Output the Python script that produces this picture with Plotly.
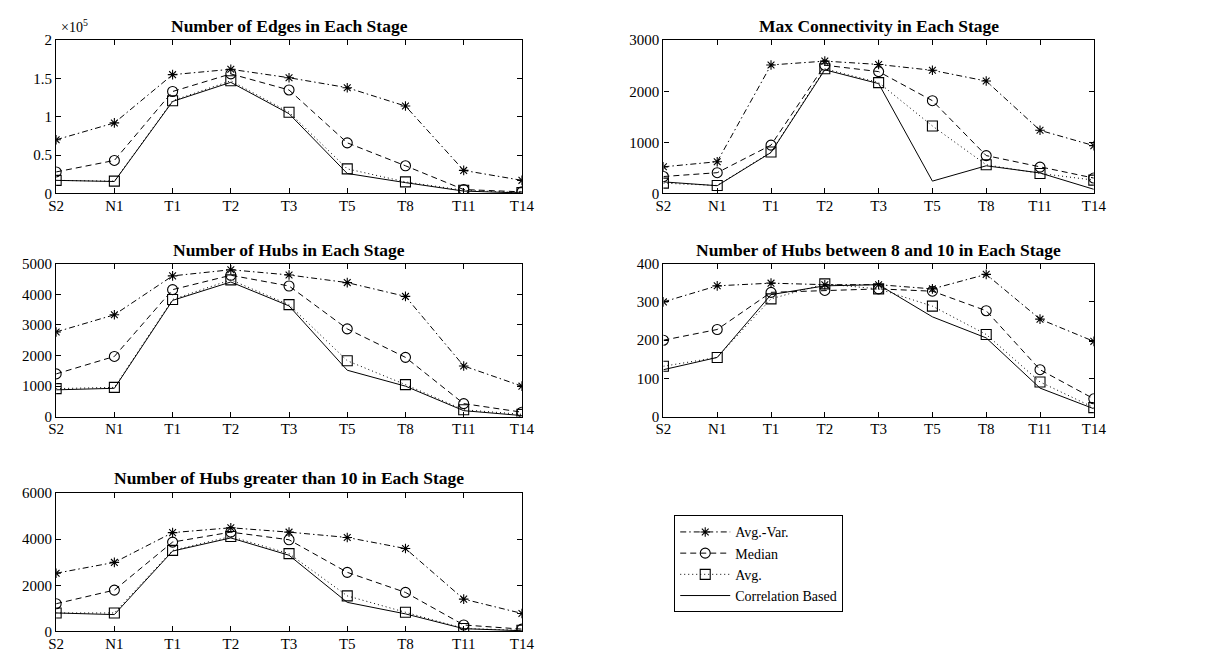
import plotly.graph_objects as go

stages = ["S2", "N1", "T1", "T2", "T3", "T5", "T8", "T11", "T14"]
series_names = ["Avg.-Var.", "Median", "Avg.", "Correlation Based"]

edges_avgvar = [70000, 92000, 155000, 162000, 151000, 138000, 114000, 30000, 17000]
edges_median = [28000, 43000, 133000, 156000, 135000, 66000, 36000, 5000, 2000]
edges_avg = [17000, 16000, 121000, 147000, 106000, 32000, 15000, 4000, 1000]
edges_corr = [17000, 15500, 120000, 145000, 104000, 26000, 14000, 3000, 500]

maxconn_avgvar = [520, 620, 2515, 2590, 2525, 2410, 2200, 1235, 935]
maxconn_median = [330, 405, 945, 2510, 2385, 1815, 740, 515, 300]
maxconn_avg = [200, 155, 810, 2440, 2170, 1320, 560, 390, 260]
maxconn_corr = [225, 150, 800, 2420, 2150, 240, 540, 400, 80]

hubs_avgvar = [2770, 3330, 4600, 4800, 4630, 4380, 3930, 1660, 1000]
hubs_median = [1400, 1970, 4150, 4620, 4270, 2870, 1940, 430, 150]
hubs_avg = [920, 960, 3830, 4470, 3660, 1830, 1050, 230, 80]
hubs_corr = [880, 930, 3800, 4400, 3620, 1520, 1000, 200, 40]

hubs810_avgvar = [300, 342, 349, 345, 345, 334, 372, 255, 197]
hubs810_median = [200, 228, 325, 330, 334, 328, 277, 123, 47]
hubs810_avg = [132, 155, 308, 347, 334, 289, 215, 91, 24]
hubs810_corr = [123, 155, 319, 342, 345, 261, 206, 75, 21]

hubs10_avgvar = [2520, 2990, 4280, 4490, 4300, 4070, 3590, 1400, 780]
hubs10_median = [1200, 1790, 3870, 4300, 3970, 2560, 1690, 280, 100]
hubs10_avg = [800, 800, 3510, 4110, 3370, 1540, 830, 130, 50]
hubs10_corr = [800, 730, 3480, 4050, 3300, 1260, 760, 120, 30]

titles = [
    "Number of Edges in Each Stage",
    "Max Connectivity in Each Stage",
    "Number of Hubs in Each Stage",
    "Number of Hubs between 8 and 10 in Each Stage",
    "Number of Hubs greater than 10 in Each Stage",
]

panels = [
    [edges_avgvar, edges_median, edges_avg, edges_corr],
    [maxconn_avgvar, maxconn_median, maxconn_avg, maxconn_corr],
    [hubs_avgvar, hubs_median, hubs_avg, hubs_corr],
    [hubs810_avgvar, hubs810_median, hubs810_avg, hubs810_corr],
    [hubs10_avgvar, hubs10_median, hubs10_avg, hubs10_corr],
]

y_ranges = [[0, 200000], [0, 3000], [0, 5000], [0, 400], [0, 6000]]
y_tickvals = [
    [0, 50000, 100000, 150000, 200000],
    [0, 1000, 2000, 3000],
    [0, 1000, 2000, 3000, 4000, 5000],
    [0, 100, 200, 300, 400],
    [0, 2000, 4000, 6000],
]
y_ticktext = [
    ["0", "0.5", "1", "1.5", "2"],
    ["0", "1000", "2000", "3000"],
    ["0", "1000", "2000", "3000", "4000", "5000"],
    ["0", "100", "200", "300", "400"],
    ["0", "2000", "4000", "6000"],
]

W, H = 1209, 657
# pixel boxes (left, right, top, bottom)
boxes = [
    (49, 523, 33, 190),
    (667, 1105, 33, 190),
    (49, 523, 262, 419),
    (667, 1105, 262, 419),
    (49, 523, 497, 639),
]
title_y = [18, 18, 248, 248, 482]

styles = [
    dict(dash="6px,3px,1.5px,3px", symbol="asterisk-open", size=8),
    dict(dash="6px,4px", symbol="circle-open", size=10),
    dict(dash="1px,3px", symbol="square-open", size=10),
    dict(dash="solid", symbol=None, size=0),
]

FONT = "Liberation Serif"

fig = go.Figure()
annotations = []
for i, (data, box) in enumerate(zip(panels, boxes)):
    ax = "" if i == 0 else str(i + 1)
    for j, vals in enumerate(data):
        st = styles[j]
        kw = dict(
            x=stages, y=vals, name=series_names[j],
            xaxis="x" + ax, yaxis="y" + ax,
            line=dict(color="black", width=1, dash=st["dash"]),
            showlegend=(i == 0), legendgroup=series_names[j],
        )
        if st["symbol"]:
            kw["mode"] = "lines+markers"
            kw["marker"] = dict(symbol=st["symbol"], size=st["size"], color="black",
                                line=dict(color="black", width=1.1))
        else:
            kw["mode"] = "lines"
        fig.add_trace(go.Scatter(**kw))
    l, r, t, b = box
    xa = dict(
        domain=[l / W, r / W], anchor="y" + ax, type="category",
        categoryorder="array", categoryarray=stages, range=[0, 8],
        showline=True, linecolor="black", linewidth=1.3, mirror="ticks",
        ticks="inside", ticklen=5, tickcolor="black", tickwidth=1,
        showgrid=False, zeroline=False, ticklabelstandoff=-2,
        tickfont=dict(family=FONT, size=15, color="black"),
    )
    ya = dict(
        domain=[1 - b / H, 1 - t / H], anchor="x" + ax,
        range=y_ranges[i], tickvals=y_tickvals[i], ticktext=y_ticktext[i],
        showline=True, linecolor="black", linewidth=1.3, mirror="ticks",
        ticks="inside", ticklen=5, tickcolor="black", tickwidth=1,
        showgrid=False, zeroline=False,
        tickfont=dict(family=FONT, size=15, color="black"),
    )
    fig.layout["xaxis" + ax] = xa
    fig.layout["yaxis" + ax] = ya
    annotations.append(dict(
        text="<b>" + titles[i] + "</b>", xref="paper", yref="paper",
        x=(l + r) / 2 / W, y=1 - title_y[i] / H, xanchor="center", yanchor="middle",
        showarrow=False, font=dict(family=FONT, size=17.5, color="black"),
    ))

annotations.append(dict(
    text="×10<sup>5</sup>", xref="paper", yref="paper",
    x=52 / W, y=1 - 18 / H, xanchor="left", yanchor="middle",
    showarrow=False, font=dict(family=FONT, size=14, color="black"),
))

fig.update_layout(
    width=W, height=H,
    margin=dict(l=0, r=0, t=0, b=0),
    paper_bgcolor="white", plot_bgcolor="white",
    font=dict(family=FONT, color="black"),
    annotations=annotations,
    legend=dict(
        x=678 / W, y=1 - 520 / H, xanchor="left", yanchor="top",
        bordercolor="black", borderwidth=1, bgcolor="white",
        font=dict(family=FONT, size=14, color="black"),
        itemwidth=50, tracegroupgap=0,
    ),
)

fig.write_html("out.html")
